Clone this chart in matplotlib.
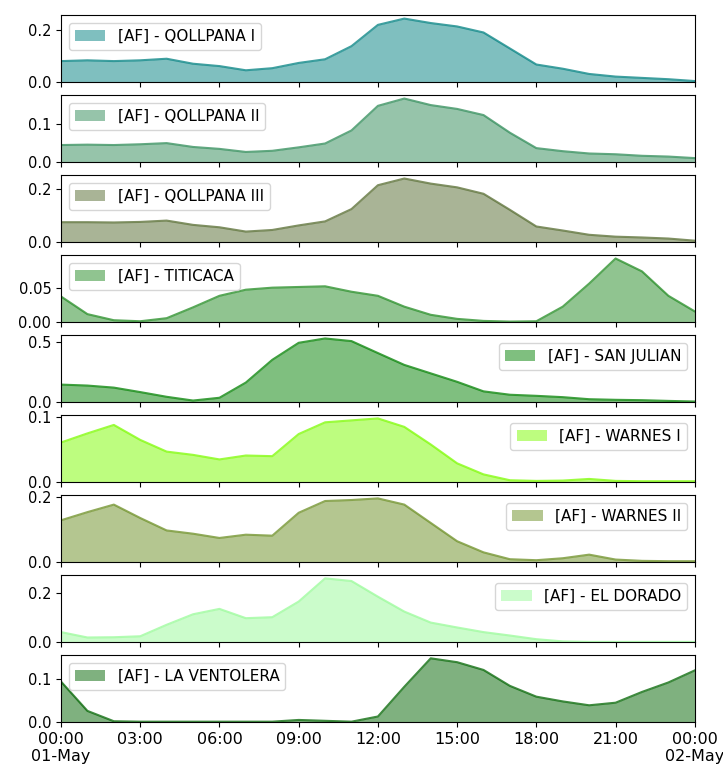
import numpy as np
import pandas as pd
import matplotlib
matplotlib.use("Agg")
import matplotlib.pyplot as plt
import matplotlib.dates as mdates
from matplotlib.ticker import MaxNLocator, FuncFormatter

plt.rcParams['font.family'] = ['DejaVu Sans']
plt.rcParams['font.size'] = 10

times = pd.date_range("2021-05-01 00:00", "2021-05-02 00:00", freq="h")

names = ["[AF] - QOLLPANA I", "[AF] - QOLLPANA II", "[AF] - QOLLPANA III",
         "[AF] - TITICACA", "[AF] - SAN JULIAN", "[AF] - WARNES I",
         "[AF] - WARNES II", "[AF] - EL DORADO", "[AF] - LA VENTOLERA"]

qollpana_1 = [0.081, 0.084, 0.081, 0.084, 0.090, 0.071, 0.062, 0.046, 0.054, 0.074, 0.088, 0.138,
              0.219, 0.243, 0.226, 0.213, 0.190, 0.129, 0.068, 0.052, 0.032, 0.022, 0.017, 0.012, 0.005]
qollpana_2 = [0.045, 0.046, 0.045, 0.047, 0.050, 0.040, 0.035, 0.027, 0.030, 0.039, 0.049, 0.083,
              0.147, 0.166, 0.149, 0.139, 0.123, 0.077, 0.037, 0.029, 0.023, 0.021, 0.017, 0.015, 0.011]
qollpana_3 = [0.075, 0.075, 0.074, 0.076, 0.081, 0.065, 0.056, 0.040, 0.046, 0.063, 0.078, 0.124,
              0.213, 0.238, 0.219, 0.205, 0.181, 0.121, 0.059, 0.044, 0.028, 0.021, 0.018, 0.014, 0.006]
titicaca = [0.038, 0.012, 0.003, 0.0015, 0.006, 0.022, 0.039, 0.048, 0.051, 0.052, 0.053, 0.045,
            0.039, 0.023, 0.011, 0.005, 0.002, 0.001, 0.0015, 0.023, 0.057, 0.094, 0.075, 0.039, 0.016]
san_julian = [0.146, 0.138, 0.121, 0.084, 0.045, 0.014, 0.037, 0.163, 0.351, 0.492, 0.528, 0.506,
              0.407, 0.309, 0.239, 0.169, 0.090, 0.062, 0.053, 0.042, 0.025, 0.020, 0.017, 0.011, 0.006]
warnes_1 = [0.061, 0.075, 0.088, 0.065, 0.047, 0.042, 0.035, 0.041, 0.040, 0.074, 0.092, 0.095,
            0.098, 0.085, 0.058, 0.029, 0.012, 0.003, 0.002, 0.0025, 0.005, 0.002, 0.0015, 0.0015, 0.0015]
warnes_2 = [0.128, 0.153, 0.176, 0.135, 0.097, 0.087, 0.074, 0.084, 0.081, 0.151, 0.187, 0.190,
            0.195, 0.176, 0.120, 0.064, 0.030, 0.009, 0.006, 0.012, 0.023, 0.008, 0.004, 0.003, 0.003]
el_dorado = [0.041, 0.019, 0.020, 0.024, 0.071, 0.114, 0.136, 0.098, 0.102, 0.166, 0.261, 0.250,
             0.186, 0.125, 0.080, 0.060, 0.041, 0.027, 0.012, 0.003, 0.001, 0.001, 0.001, 0.001, 0.001]
la_ventolera = [0.094, 0.026, 0.002, 0.001, 0.001, 0.001, 0.001, 0.001, 0.001, 0.005, 0.003, 0.001,
                0.013, 0.082, 0.148, 0.139, 0.121, 0.084, 0.059, 0.048, 0.039, 0.045, 0.070, 0.092, 0.120]

series = [qollpana_1, qollpana_2, qollpana_3, titicaca, san_julian,
          warnes_1, warnes_2, el_dorado, la_ventolera]
colors = ["teal", "seagreen", "darkolivegreen", "forestgreen", "green",
          "lawngreen", "olivedrab", "palegreen", "darkgreen"]
legend_locs = ["upper left", "upper left", "upper left", "upper left", "upper right",
               "upper right", "upper right", "upper right", "upper left"]

fig, axes = plt.subplots(9, 1, figsize=(7.23, 7.69), dpi=100, sharex=True)
fig.subplots_adjust(left=0.0844, right=0.961, top=0.980, bottom=0.061, hspace=0.194)


def fmt(x, pos):
    d = mdates.num2date(x)
    if d.hour == 0:
        return d.strftime("%H:%M\n%d-%b")
    return d.strftime("%H:%M")


for ax, name, vals, col, loc in zip(axes, names, series, colors, legend_locs):
    v = np.array(vals)
    ax.fill_between(times, 0, v, color=col, alpha=0.5, linewidth=0, label=name)
    ax.plot(times, v, color=col, linewidth=1.5, alpha=0.75)
    ax.set_xlim(times[0], times[-1])
    top = v.max() * 1.05
    ax.set_ylim(0, top)
    ax.yaxis.set_major_locator(MaxNLocator(nbins=2, steps=[1, 2, 5, 10]))
    ax.tick_params(axis='y', labelsize=10.5)
    ax.legend(loc=loc, fontsize=11)

axes[-1].xaxis.set_major_locator(mdates.HourLocator(byhour=range(0, 24, 3)))
axes[-1].xaxis.set_major_formatter(FuncFormatter(fmt))
axes[-1].tick_params(axis='x', labelsize=11.5)
for lab in axes[-1].get_xticklabels():
    lab.set_rotation(0)
    lab.set_ha("center")

fig.savefig("out.png", dpi=100)
